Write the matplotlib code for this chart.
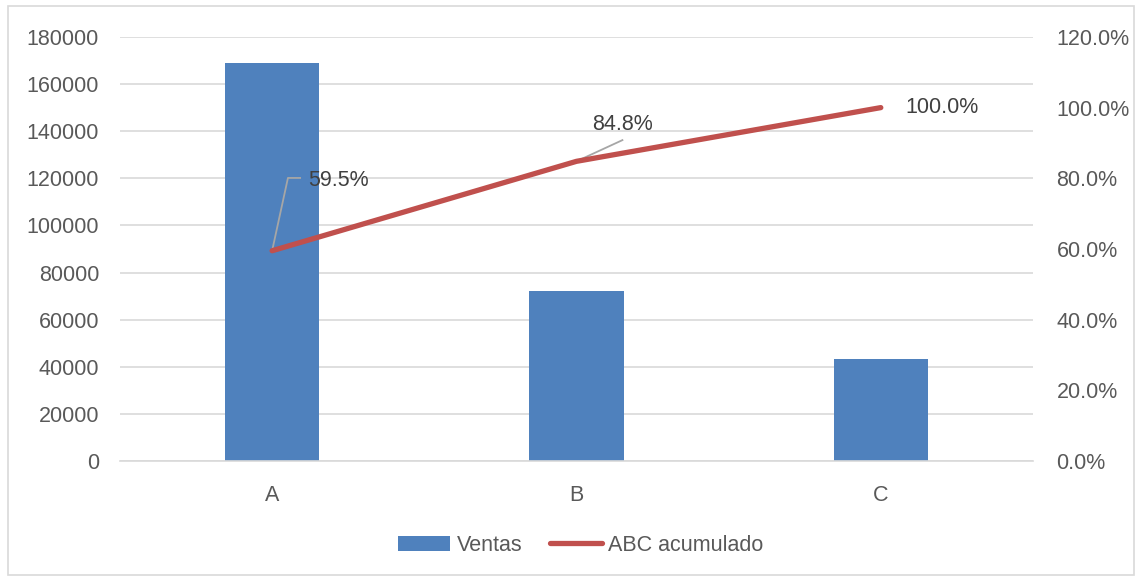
import numpy as np
import matplotlib.pyplot as plt
from matplotlib.patches import Rectangle
from matplotlib.ticker import FuncFormatter

plt.rcParams['font.family'] = ['Liberation Sans', 'DejaVu Sans']

categorias = ['A', 'B', 'C']
ventas = [169000, 72200, 43300]
abc_acumulado = [0.595, 0.848, 1.0]
etiquetas = ['59.5%', '84.8%', '100.0%']

gris = '#595959'
azul = '#4f81bd'
rojo = '#c0504d'
fs = 15.5

fig = plt.figure(figsize=(11.37, 5.77), dpi=100)
fig.patches.append(Rectangle((0.007, 0.003), 0.99, 0.987, transform=fig.transFigure,
                             fill=False, edgecolor='#d9d9d9', linewidth=1.2))
ax = fig.add_axes([0.1055, 0.201, 0.803, 0.735])
x = np.arange(len(categorias))

b = ax.bar(x, ventas, width=0.31, color=azul, label='Ventas', zorder=2)
ax.set_xlim(-0.5, 2.5)
ax.set_ylim(0, 180000)
ax.set_yticks(range(0, 180001, 20000))
ax.grid(axis='y', color='#d9d9d9', linewidth=1.2, zorder=0)
ax.set_axisbelow(True)
ax.set_xticks(x)
ax.set_xticklabels(categorias)
for s in ax.spines.values():
    s.set_visible(False)
ax.spines['bottom'].set_visible(True)
ax.spines['bottom'].set_color('#d9d9d9')
ax.spines['bottom'].set_linewidth(1.2)
ax.tick_params(axis='both', length=0, labelsize=fs, colors=gris)
ax.tick_params(axis='y', pad=15)
ax.tick_params(axis='x', pad=17)

ax2 = ax.twinx()
l, = ax2.plot(x, abc_acumulado, color=rojo, linewidth=3.8, solid_capstyle='round',
              label='ABC acumulado', zorder=3)
ax2.set_ylim(0, 1.2)
ax2.set_yticks(np.arange(0, 1.21, 0.2))
ax2.yaxis.set_major_formatter(FuncFormatter(lambda v, p: f'{v*100:.1f}%'))
for s in ax2.spines.values():
    s.set_visible(False)
ax2.tick_params(axis='y', length=0, labelsize=fs, colors=gris, pad=17)

# etiquetas de datos con lineas guia
off = [(0.118, 0.198), (0.052, 0.104), (0.08, 0.0)]
for i, (xi, yi) in enumerate(zip(x, abc_acumulado)):
    dx, dy = off[i]
    ax2.text(xi + dx, yi + dy, etiquetas[i], fontsize=fs, color='#404040',
             ha='left', va='center', zorder=4)
ax2.plot([x[0], x[0] + 0.052, x[0] + 0.092], [abc_acumulado[0], abc_acumulado[0] + 0.206, abc_acumulado[0] + 0.206],
         color='#a6a6a6', linewidth=1.3, zorder=2.5)
ax2.plot([x[1], x[1] + 0.151], [abc_acumulado[1], abc_acumulado[1] + 0.06],
         color='#a6a6a6', linewidth=1.3, zorder=2.5)

fig.legend(handles=[b, l], loc='center', bbox_to_anchor=(0.511, 0.055), ncol=2, frameon=False,
           fontsize=fs, labelcolor=gris, handlelength=2.4, handletextpad=0.3, columnspacing=1.3)

fig.savefig('out.png', dpi=100)
